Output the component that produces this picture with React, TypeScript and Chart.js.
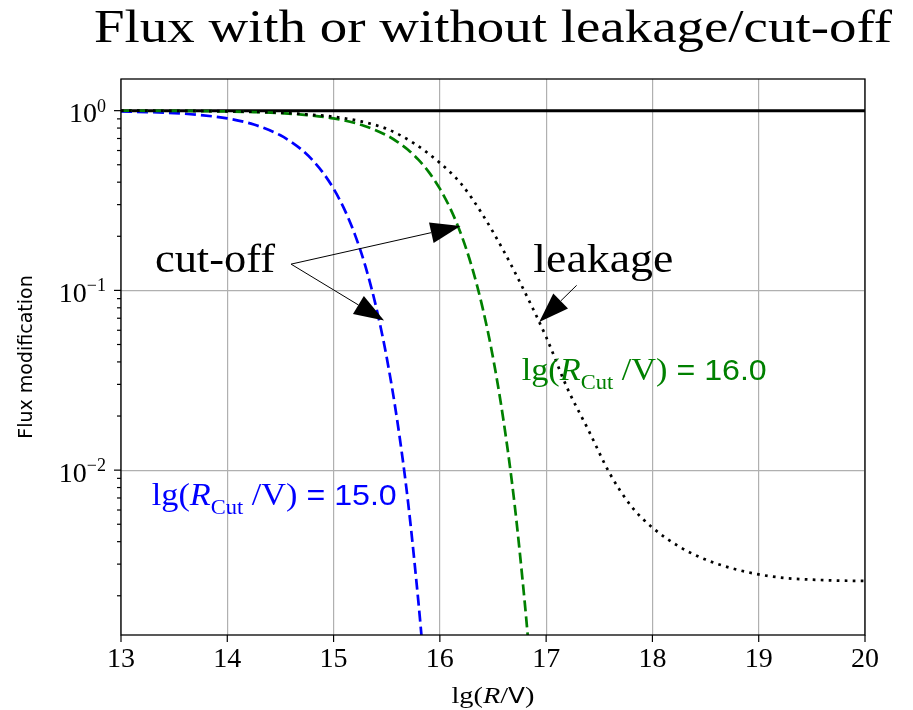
import React, { useEffect, useRef } from 'react';
import { Chart, registerables } from 'chart.js';

Chart.register(...registerables);

// ---------- data ----------
const X_NONE = [13, 20];
const Y_NONE = [1, 1];

const X_CUT15 = [13, 13.25, 13.5, 13.75, 14, 14.25, 14.5, 14.6, 14.7, 14.8, 14.9, 15, 15.1, 15.2, 15.3, 15.4, 15.5, 15.6, 15.7, 15.8, 15.85];
const Y_CUT15 = [0.99, 0.982, 0.969, 0.945, 0.905, 0.837, 0.729, 0.671, 0.606, 0.532, 0.452, 0.368, 0.284, 0.205, 0.136, 0.081, 0.0423, 0.0187, 0.0067, 0.0018, 0.00084];

const X_CUT16 = [13, 13.5, 14, 14.25, 14.5, 14.75, 15, 15.25, 15.5, 15.6, 15.7, 15.8, 15.9, 16, 16.1, 16.2, 16.3, 16.4, 16.5, 16.6, 16.7, 16.8, 16.85];
const Y_CUT16 = [0.999, 0.997, 0.99, 0.982, 0.969, 0.945, 0.905, 0.837, 0.729, 0.671, 0.606, 0.532, 0.452, 0.368, 0.284, 0.205, 0.136, 0.081, 0.0423, 0.0187, 0.0067, 0.0018, 0.00084];

const X_LEAK = [13, 13.5, 14, 14.5, 14.75, 15, 15.25, 15.5, 15.75, 16, 16.2, 16.4, 16.6, 16.8, 17, 17.2, 17.4, 17.6, 17.8, 18, 18.25, 18.5, 18.75, 19, 19.25, 19.5, 19.75, 20];
const Y_LEAK = [1.0, 0.998, 0.992, 0.975, 0.953, 0.925, 0.873, 0.792, 0.662, 0.512, 0.392, 0.265, 0.166, 0.0977, 0.055, 0.0285, 0.0166, 0.00955, 0.00631, 0.00479, 0.00376, 0.00318, 0.00284, 0.00263, 0.00251, 0.00246, 0.00243, 0.00242];

const X_MIN = 13;
const X_MAX = 20;
const Y_MIN = 0.00121;
const Y_MAX = 1.5;
const Y_MAJOR = [0.001, 0.01, 0.1, 1];

const TITLE = 'Flux with or without leakage/cut-off';
const Y_TITLE = 'Flux modification';

const CUT15_VALUE = '15.0';
const CUT15_LABEL_AT = [13.289, 0.00638];
const CUT16_VALUE = '16.0';
const CUT16_LABEL_AT = [16.77, 0.0316];

const CUTOFF_TEXT = 'cut-off';
const CUTOFF_TEXT_AT = [13.884, 0.126];
const CUTOFF_TAIL = [14.6, 0.14];
const CUTOFF_TIP_16 = [16.195, 0.228];
const CUTOFF_TIP_15 = [15.475, 0.068];

const LEAK_TEXT = 'leakage';
const LEAK_TEXT_AT = [17.538, 0.1265];
const LEAK_TAIL = [17.287, 0.1067];
const LEAK_TIP = [16.935, 0.0667];

const SERIF = '"Liberation Serif", serif';
const SANS = '"Liberation Sans", sans-serif';
const DSANS = '"DejaVu Sans", sans-serif';

type Piece = { t: string; f: string; dy?: number };

function drawRich(ctx: CanvasRenderingContext2D, pieces: Piece[], x: number, y: number, align: 'left' | 'center' | 'right', color: string, targetW?: number) {
  ctx.save();
  let w = 0;
  const ws = pieces.map((p) => {
    ctx.font = p.f;
    const m = ctx.measureText(p.t).width;
    w += m;
    return m;
  });
  const sx = targetW ? targetW / w : 1;
  const total = w * sx;
  const start = align === 'left' ? x : align === 'center' ? x - total / 2 : x - total;
  ctx.translate(start, y);
  ctx.scale(sx, 1);
  ctx.fillStyle = color;
  ctx.textBaseline = 'alphabetic';
  ctx.textAlign = 'left';
  let cx = 0;
  pieces.forEach((p, i) => {
    ctx.font = p.f;
    ctx.fillText(p.t, cx, p.dy || 0);
    cx += ws[i];
  });
  ctx.restore();
}

function drawArrow(ctx: CanvasRenderingContext2D, x0: number, y0: number, x1: number, y1: number) {
  const ang = Math.atan2(y1 - y0, x1 - x0);
  const L = 30;
  const W = 21;
  const c = Math.cos(ang);
  const s = Math.sin(ang);
  const bx = x1 - L * c;
  const by = y1 - L * s;
  ctx.save();
  ctx.strokeStyle = '#000';
  ctx.fillStyle = '#000';
  ctx.lineWidth = 1;
  ctx.beginPath();
  ctx.moveTo(x0, y0);
  ctx.lineTo(bx, by);
  ctx.stroke();
  ctx.beginPath();
  ctx.moveTo(x1, y1);
  ctx.lineTo(bx - (W / 2) * s, by + (W / 2) * c);
  ctx.lineTo(bx + (W / 2) * s, by - (W / 2) * c);
  ctx.closePath();
  ctx.fill();
  ctx.restore();
}

const pts = (xs: number[], ys: number[]) => xs.map((x, i) => ({ x, y: ys[i] }));

const decorPlugin = {
  id: 'decor',
  afterDraw(chart: any) {
    const ctx: CanvasRenderingContext2D = chart.ctx;
    const a = chart.chartArea;
    const xs = chart.scales.x;
    const ys = chart.scales.y;
    const px = (v: number) => xs.getPixelForValue(v);
    const py = (v: number) => ys.getPixelForValue(v);

    ctx.save();
    // frame
    ctx.strokeStyle = '#000';
    ctx.lineWidth = 1.3;
    ctx.strokeRect(a.left, a.top, a.right - a.left, a.bottom - a.top);

    // x tick marks
    ctx.lineWidth = 1.2;
    for (let v = X_MIN; v <= X_MAX; v++) {
      const p = px(v);
      ctx.beginPath();
      ctx.moveTo(p, a.bottom);
      ctx.lineTo(p, a.bottom + 7);
      ctx.stroke();
    }
    // y tick marks (major + minor)
    for (let e = -4; e <= 1; e++) {
      for (let m = 1; m <= 9; m++) {
        const v = m * Math.pow(10, e);
        if (v < Y_MIN || v > Y_MAX) continue;
        const p = py(v);
        const len = m === 1 ? 7 : 4;
        ctx.beginPath();
        ctx.moveTo(a.left, p);
        ctx.lineTo(a.left - len, p);
        ctx.stroke();
      }
    }
    ctx.restore();

    // y tick labels 10^k
    Y_MAJOR.forEach((v) => {
      if (v < Y_MIN || v > Y_MAX) return;
      const e = Math.round(Math.log10(v));
      const p = py(v);
      const expStr = e < 0 ? '\u2212' + String(-e) : String(e);
      drawRich(ctx, [
        { t: '10', f: `28px ${SERIF}` },
        { t: expStr, f: `18px ${SERIF}`, dy: -10.5 },
      ], a.left - 15, p + 11.5, 'right', '#000');
    });

    // title
    drawRich(ctx, [{ t: TITLE, f: `46px ${SERIF}` }], (a.left + a.right) / 2, 42, 'center', '#000', 798);

    // x axis title
    drawRich(ctx, [
      { t: 'lg(', f: `24px ${SERIF}` },
      { t: 'R', f: `italic 24px ${SERIF}` },
      { t: '/', f: `24px ${SERIF}` },
      { t: 'V', f: `21px ${DSANS}` },
      { t: ')', f: `24px ${SERIF}` },
    ], (a.left + a.right) / 2, 703, 'center', '#000', 83);

    // y axis title
    ctx.save();
    ctx.translate(27, (a.top + a.bottom) / 2);
    ctx.rotate(-Math.PI / 2);
    ctx.font = `19px ${DSANS}`;
    ctx.fillStyle = '#000';
    ctx.textAlign = 'center';
    ctx.textBaseline = 'middle';
    ctx.fillText(Y_TITLE, 0, 0);
    ctx.restore();

    // cut labels
    const cutPieces = (val: string): Piece[] => [
      { t: 'lg(', f: `32px ${SERIF}` },
      { t: 'R', f: `italic 32px ${SERIF}` },
      { t: 'Cut', f: `21px ${SERIF}`, dy: 9 },
      { t: ' /V)', f: `32px ${SERIF}` },
      { t: ' = ' + val, f: `30px ${SANS}` },
    ];
    drawRich(ctx, cutPieces(CUT15_VALUE), px(CUT15_LABEL_AT[0]), py(CUT15_LABEL_AT[1]), 'left', '#0000ff', 245);
    drawRich(ctx, cutPieces(CUT16_VALUE), px(CUT16_LABEL_AT[0]), py(CUT16_LABEL_AT[1]), 'left', '#008000', 245);

    // annotations
    drawRich(ctx, [{ t: CUTOFF_TEXT, f: `40px ${SERIF}` }], px(CUTOFF_TEXT_AT[0]), py(CUTOFF_TEXT_AT[1]), 'center', '#000', 120);
    drawRich(ctx, [{ t: LEAK_TEXT, f: `40px ${SERIF}` }], px(LEAK_TEXT_AT[0]), py(LEAK_TEXT_AT[1]), 'center', '#000', 140);
    drawArrow(ctx, px(CUTOFF_TAIL[0]), py(CUTOFF_TAIL[1]), px(CUTOFF_TIP_16[0]), py(CUTOFF_TIP_16[1]));
    drawArrow(ctx, px(CUTOFF_TAIL[0]), py(CUTOFF_TAIL[1]), px(CUTOFF_TIP_15[0]), py(CUTOFF_TIP_15[1]));
    drawArrow(ctx, px(LEAK_TAIL[0]), py(LEAK_TAIL[1]), px(LEAK_TIP[0]), py(LEAK_TIP[1]));
  },
};

export default function App() {
  const ref = useRef<HTMLCanvasElement | null>(null);

  useEffect(() => {
    if (!ref.current) return;
    const common = { pointRadius: 0, fill: false, clip: 0, cubicInterpolationMode: 'monotone' as const, borderCapStyle: 'butt' as const };
    const chart = new Chart(ref.current, {
      type: 'line',
      data: {
        datasets: [
          { ...common, data: pts(X_NONE, Y_NONE), borderColor: '#000000', borderWidth: 3, order: 4 },
          { ...common, data: pts(X_CUT15, Y_CUT15), borderColor: '#0000ff', borderWidth: 2.7, borderDash: [11, 5], order: 3 },
          { ...common, data: pts(X_CUT16, Y_CUT16), borderColor: '#008000', borderWidth: 2.7, borderDash: [11, 5], order: 2 },
          { ...common, data: pts(X_LEAK, Y_LEAK), borderColor: '#000000', borderWidth: 2.7, borderDash: [2.7, 5.3], order: 1 },
        ] as any,
      },
      options: {
        responsive: false,
        animation: false,
        events: [],
        layout: { padding: { top: 79, right: 48, bottom: 0, left: 0 } },
        plugins: { legend: { display: false }, tooltip: { enabled: false }, title: { display: false } },
        scales: {
          x: {
            type: 'linear',
            min: X_MIN,
            max: X_MAX,
            border: { display: false },
            grid: { color: '#b0b0b0', lineWidth: 1.2, drawTicks: false },
            ticks: { stepSize: 1, padding: 8, color: '#000', font: { family: 'Liberation Serif', size: 28 }, maxRotation: 0 },
            afterFit: (s: any) => { s.height = 75; },
          },
          y: {
            type: 'logarithmic',
            min: Y_MIN,
            max: Y_MAX,
            border: { display: false },
            grid: { color: '#b0b0b0', lineWidth: 1.2, drawTicks: false },
            ticks: { display: false },
            afterBuildTicks: (s: any) => {
              s.ticks = Y_MAJOR.filter((v) => v >= Y_MIN && v <= Y_MAX).map((v) => ({ value: v, major: true }));
            },
            afterFit: (s: any) => { s.width = 121; },
          },
        },
      } as any,
      plugins: [decorPlugin],
    });
    return () => chart.destroy();
  }, []);

  return (
    <div style={{ position: 'fixed', left: 0, top: 0, width: 913, height: 710, background: '#fff' }}>
      <canvas ref={ref} width={913} height={710} />
    </div>
  );
}
